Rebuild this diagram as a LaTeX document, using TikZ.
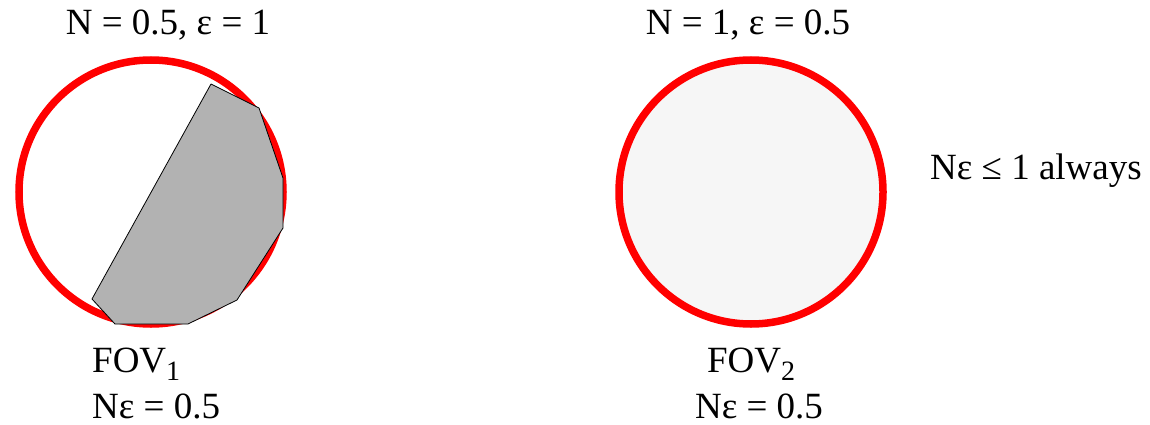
\documentclass[tikz,border=0pt]{standalone}
\usepackage{fontspec}
\setmainfont{Liberation Serif}
\newcommand{\fovsub}[1]{\raisebox{-8pt}{\fontsize{28}{28}\selectfont #1}}
\begin{document}
\begin{tikzpicture}[x=1pt,y=-1pt,
  fov/.style={draw=red,circle,line width=7.5pt,minimum size=264pt,inner sep=0pt},
  lbl/.style={font=\fontsize{37}{46}\selectfont,inner sep=0pt}]
  \useasboundingbox (0,0) rectangle (1150,425);
  \node[fov,fill=white] (fov1) at (151,192) {};
  \node[fov,fill=gray!7] (fov2) at (751,192) {};
  \draw[fill=gray!60,line width=0.8pt,line join=round]
    (211,84) -- (259,108) -- (283,178) -- (283,228) -- (237,300)
    -- (188,324) -- (115,324) -- (92,299) -- cycle;

  \node[lbl,anchor=base] (n1) at (168,35) {N = 0.5, ε = 1};
  \node[lbl,anchor=base] (n2) at (748,35) {N = 1, ε = 0.5};
  \node[lbl,anchor=base west] (f1) at (92,372) {FOV\fovsub{1}};
  \node[lbl,anchor=base west] (p1) at (92,418) {Nε = 0.5};
  \node[lbl,anchor=base] (f2) at (751,372) {FOV\fovsub{2}};
  \node[lbl,anchor=base] (p2) at (759,418) {Nε = 0.5};
  \node[lbl,anchor=base west] (al) at (930,179) {Nε ≤ 1 always};
\end{tikzpicture}
\end{document}
